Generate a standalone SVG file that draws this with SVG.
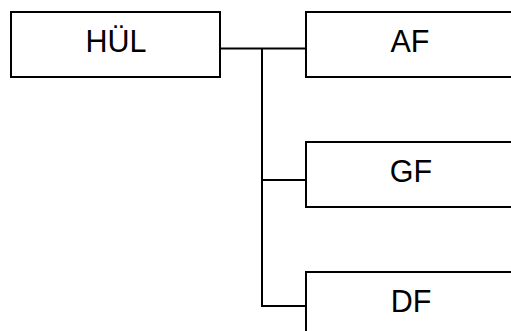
<svg xmlns="http://www.w3.org/2000/svg" width="511" height="331" viewBox="0 0 511 331">
<style>
.box{fill:#fff;stroke:#000;stroke-width:2}
.lbl{font-family:"Liberation Sans",Arial,sans-serif;font-size:30.5px;fill:#000;text-anchor:middle}
.con{fill:none;stroke:#000;stroke-width:2}
</style>
<rect width="511" height="331" fill="#fff"/>
<g id="connectors">
<polyline class="con" points="220,48.5 306,48.5"/>
<polyline class="con" points="262,48.5 262,306 306,306"/>
<polyline class="con" points="262,180 306,180"/>
</g>
<g id="HUL"><rect class="box" x="11" y="12" width="209" height="65"/><text class="lbl" x="116" y="51.7">HÜL</text></g>
<g id="AF"><rect class="box" x="306" y="12" width="209" height="65"/><text class="lbl" x="410" y="51.7">AF</text></g>
<g id="GF"><rect class="box" x="306" y="142" width="209" height="65"/><text class="lbl" x="411" y="181.7">GF</text></g>
<g id="DF"><rect class="box" x="306" y="272" width="209" height="65"/><text class="lbl" x="411" y="311.7">DF</text></g>
</svg>
